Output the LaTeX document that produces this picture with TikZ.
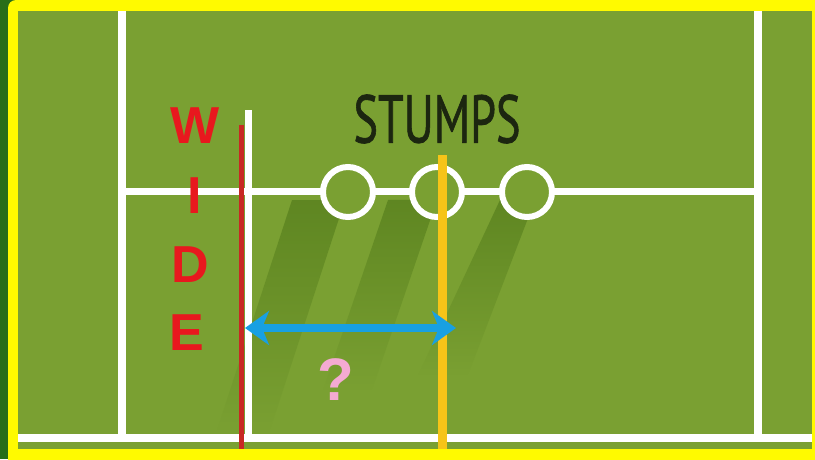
\documentclass[tikz,border=0pt]{standalone}
\usepackage{fontspec}
\setmainfont{Liberation Sans}
\newfontfamily\condfont[FakeBold=1.2]{PT Sans}
\usetikzlibrary{arrows.meta,fadings}
\definecolor{grass}{RGB}{40,110,25}
\definecolor{frame}{RGB}{255,250,0}
\definecolor{field}{RGB}{122,160,50}
\definecolor{shade}{RGB}{88,128,30}
\definecolor{widered}{RGB}{232,24,30}
\definecolor{redline}{RGB}{200,40,35}
\definecolor{stumpline}{RGB}{246,196,24}
\definecolor{arrowblue}{RGB}{24,160,226}
\definecolor{qpink}{RGB}{244,170,210}
\definecolor{darktext}{RGB}{28,38,16}
\tikzfading[name=shadowfade, top color=transparent!0, bottom color=transparent!100]
\tikzset{
  whiteline/.style={draw=white, line width=7.5pt},
  stumpring/.style={circle, draw=white, line width=6pt, fill=field, minimum size=50pt, inner sep=0pt},
  shadowpoly/.style={fill=shade, opacity=0.8, path fading=shadowfade},
  wideletter/.style={text=widered, font=\bfseries\fontsize{52}{52}\selectfont, inner sep=0pt},
  bluehead/.tip={Stealth[length=24pt,width=34pt,inset=7pt]},
}
\begin{document}
\begin{tikzpicture}[x=1pt,y=-1pt]
\useasboundingbox (0,0) rectangle (815,459);
% background
\fill[grass] (0,0) rectangle (815,459);
\fill[frame, rounded corners=8pt] (8,0) rectangle (830,470);
\fill[field] (18,11) rectangle (812,449);
% shadows
\begin{scope}
\clip (18,11) rectangle (812,449);
\fill[shadowpoly] (292,200) -- (345,200) -- (270,430) -- (217,430) -- cycle;
\fill[shadowpoly] (388,200) -- (437,200) -- (372,390) -- (323,390) -- cycle;
\fill[shadowpoly] (500,200) -- (535,200) -- (468,375) -- (418,375) -- cycle;
\end{scope}
% pitch coordinates
\coordinate (lt) at (122,11);
\coordinate (lb) at (122,438);
\coordinate (rt) at (758,11);
\coordinate (rb) at (758,438);
\coordinate (bl) at (18,438);
\coordinate (br) at (812,438);
\coordinate (cl) at (122,191);
\coordinate (cr) at (758,191);
\draw[whiteline] (lt) -- (lb);
\draw[whiteline] (rt) -- (rb);
\draw[whiteline] (bl) -- (br);
\draw[whiteline, line width=7pt] (cl) -- (cr);
% stumps
\node[stumpring] (s1) at (348,192) {};
\node[stumpring] (s2) at (437,192) {};
\node[stumpring] (s3) at (527,192) {};
\node[text=darktext, inner sep=0pt] (stumps) at (437,119)
  {\resizebox{167pt}{48pt}{\condfont STUMPS}};
% wide guideline
\coordinate (wt) at (248.5,110);
\coordinate (wb) at (248.5,438);
\draw[white, line width=7pt] (wt) -- (wb);
\coordinate (rtop) at (241.5,125);
\coordinate (rbot) at (241.5,449);
\draw[redline, line width=4.5pt] (rtop) -- (rbot);
% off stump line
\coordinate (yt) at (442,155);
\coordinate (yb) at (442,449);
\draw[stumpline, line width=9pt] (yt) -- (yb);
% WIDE
\node[wideletter] (w1) at (195,126) {W};
\node[wideletter] (w2) at (195,196) {I};
\node[wideletter] (w3) at (190,265) {D};
\node[wideletter] (w4) at (187,333) {E};
% arrow
\coordinate (al) at (245,328);
\coordinate (ar) at (456,328);
\draw[arrowblue, line width=7.5pt, bluehead-bluehead] (al) -- (ar);
\node[text=qpink, font=\bfseries\fontsize{60}{60}\selectfont, inner sep=0pt] (q) at (336,380) {?};
\end{tikzpicture}
\end{document}
